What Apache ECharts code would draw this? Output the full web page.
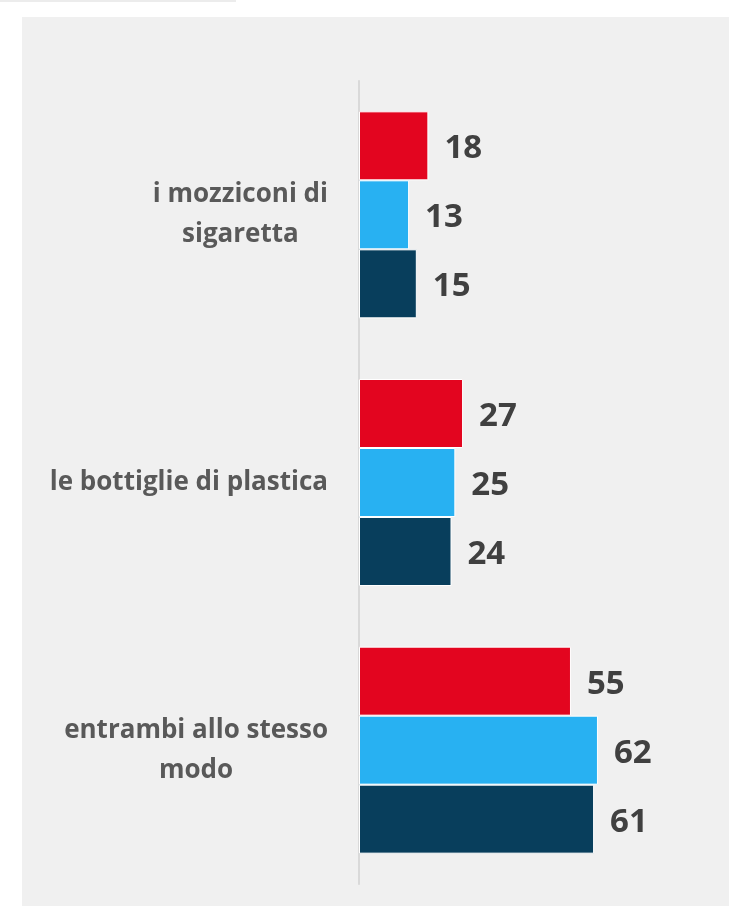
<!DOCTYPE html>
<html>
<head>
<meta charset="utf-8">
<script src="https://cdn.jsdelivr.net/npm/echarts@6/dist/echarts.min.js"></script>
<style>
html,body{margin:0;padding:0;background:#fff;}
#chart{width:729px;height:906px;}
</style>
</head>
<body>
<div id="chart"></div>
<script>
const categories = ['i mozziconi di\nsigaretta', 'le bottiglie di plastica', 'entrambi allo stesso\nmodo'];
const seriesRed = [18, 27, 55];
const seriesBlue = [13, 25, 62];
const seriesDark = [15, 24, 61];
const colors = ['#E3051F', '#28B1F2', '#083E5C'];

const chart = echarts.init(document.getElementById('chart'), null, {renderer: 'canvas'});

function makeSeries(name, data, color) {
  return {
    name: name,
    type: 'bar',
    data: data,
    barWidth: 69,
    barGap: '0%',
    itemStyle: {color: color, borderColor: '#ffffff', borderWidth: 1},
    label: {
      show: true,
      position: 'right',
      distance: 16,
      offset: [0, 3],
      fontFamily: 'Open Sans',
      fontWeight: 'bold',
      fontSize: 33,
      color: '#404040'
    },
    emphasis: {disabled: true},
    animation: false
  };
}

chart.setOption({
  animation: false,
  backgroundColor: '#ffffff',
  graphic: [
    {type: 'rect', z: -10, shape: {x: 0, y: 0, width: 236, height: 2}, style: {fill: '#ececec'}},
    {type: 'rect', z: -10, shape: {x: 22, y: 17, width: 707, height: 889}, style: {fill: '#f0f0f0'}}
  ],
  grid: {left: 359, right: 0, top: 81, bottom: 22, containLabel: false},
  xAxis: {
    type: 'value', min: 0, max: 96, show: false
  },
  yAxis: {
    type: 'category',
    inverse: true,
    data: categories,
    axisLine: {show: true, lineStyle: {color: '#d9d9d9', width: 2}},
    axisTick: {show: false},
    splitLine: {show: false},
    axisLabel: {
      margin: 31,
      align: 'right',
      formatter: function (v) {
        return v.split('\n').map(function (l) { return '{c|' + l + '}'; }).join('\n');
      },
      rich: {
        c: {
          align: 'center',
          fontFamily: 'Open Sans',
          fontWeight: 'bold',
          fontSize: 26,
          lineHeight: 40,
          color: '#595959'
        }
      }
    }
  },
  series: [
    makeSeries('red', seriesRed, colors[0]),
    makeSeries('blue', seriesBlue, colors[1]),
    makeSeries('dark', seriesDark, colors[2])
  ]
});
</script>
</body>
</html>
